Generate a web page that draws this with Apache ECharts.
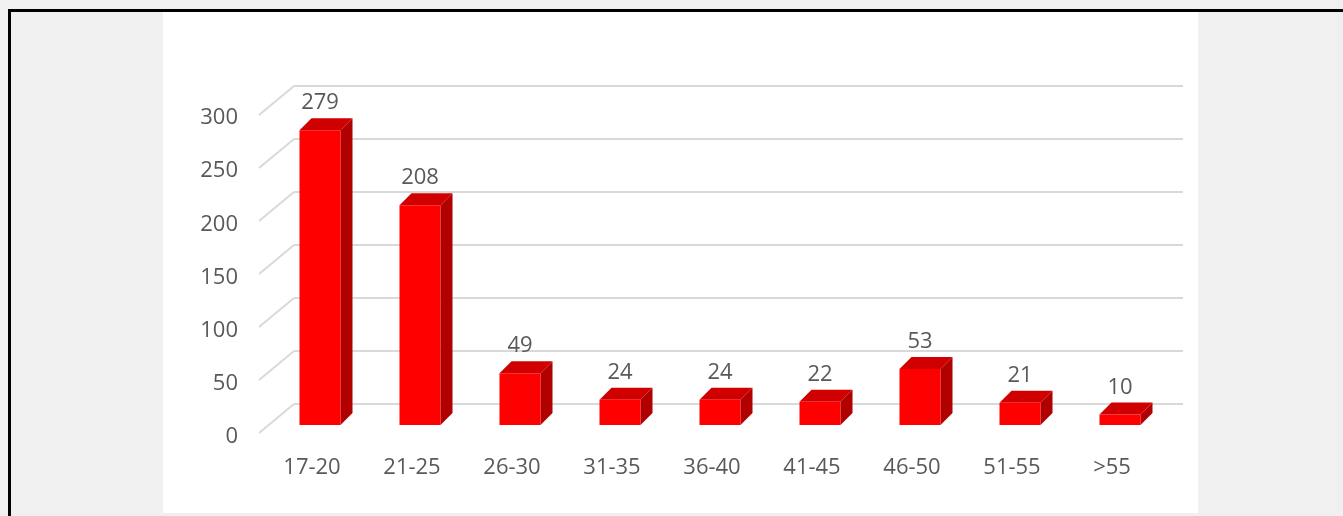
<!DOCTYPE html>
<html><head><meta charset="utf-8">
<script src="https://cdn.jsdelivr.net/npm/echarts@6/dist/echarts.min.js"></script>
<style>
html,body{margin:0;padding:0;background:#f0f0f0;width:1343px;height:516px;overflow:hidden;}
#panel{position:absolute;left:163px;top:11px;width:1035px;height:502px;background:#fff;}
#bt{position:absolute;left:8px;top:9px;width:1335px;height:3px;background:#000;}
#bl{position:absolute;left:8px;top:9px;width:3px;height:507px;background:#000;}
#chart{position:absolute;left:0;top:0;width:1343px;height:516px;}
</style></head><body>
<div id="panel"></div><div id="bt"></div><div id="bl"></div><div id="chart"></div>
<script>
const categories = ['17-20','21-25','26-30','31-35','36-40','41-45','46-50','51-55','>55'];
const counts = [279, 208, 49, 24, 24, 22, 53, 21, 10];
const yTicks = [0, 50, 100, 150, 200, 250, 300];

const FONT = "'Open Sans', 'Liberation Sans', sans-serif";
const TEXT = '#595959';
const GRID_LINE = '#d9d9d9';
const DEPTH = 12;
const FLOOR = [35, 29];

const chart = echarts.init(document.getElementById('chart'), null, {renderer: 'canvas'});

const option = {
  animation: false,
  backgroundColor: 'transparent',
  grid: [
    {left: 270, width: 900, top: 108, height: 317},
    {left: 294, width: 889, top: 86, height: 318},
    {left: 262, width: 900, top: 118, height: 319}
  ],
  xAxis: [
    {gridIndex: 0, type: 'category', data: categories, show: false},
    {gridIndex: 1, type: 'category', data: categories, show: false},
    {gridIndex: 2, type: 'category', data: categories,
      axisLine: {show: false}, axisTick: {show: false},
      axisLabel: {margin: 20, color: TEXT, fontSize: 22, fontFamily: FONT}}
  ],
  yAxis: [
    {gridIndex: 0, type: 'value', min: 0, max: 300, interval: 50, show: false},
    {gridIndex: 1, type: 'value', min: 0, max: 300, interval: 50,
      axisLine: {show: false}, axisTick: {show: false}, axisLabel: {show: false},
      splitLine: {show: true, lineStyle: {color: GRID_LINE, width: 2}}},
    {gridIndex: 2, type: 'value', min: 0, max: 300, interval: 50,
      axisLine: {show: false}, axisTick: {show: false}, splitLine: {show: false},
      axisLabel: {margin: 24, color: TEXT, fontSize: 22, fontFamily: FONT}}
  ],
  series: [
    {
      type: 'custom', xAxisIndex: 1, yAxisIndex: 1, silent: true, z: 1,
      data: yTicks.map(v => [0, v]),
      renderItem: function (params, api) {
        const p = api.coord([0, api.value(1)]);
        const band = api.size([1, 0])[0];
        const wx = p[0] - band / 2;
        return {
          type: 'line',
          shape: {x1: wx, y1: p[1], x2: wx - FLOOR[0], y2: p[1] + FLOOR[1]},
          style: {stroke: GRID_LINE, lineWidth: 2}
        };
      }
    },
    {
      type: 'custom', xAxisIndex: 0, yAxisIndex: 0, silent: true, z: 5,
      data: counts.map((v, i) => [i, v]),
      renderItem: function (params, api) {
        const i = api.value(0), v = api.value(1);
        const base = api.coord([i, 0]);
        const top = api.coord([i, v]);
        const w = api.size([1, 0])[0] * 0.41;
        const x0 = base[0] - w / 2, x1 = base[0] + w / 2;
        const yb = base[1], yt = top[1], d = DEPTH;
        return {
          type: 'group',
          children: [
            {type: 'polygon', shape: {points: [[x1, yt], [x1 + d, yt - d], [x1 + d, yb - d], [x1, yb]]},
              style: {fill: '#b00000'}},
            {type: 'polygon', shape: {points: [[x0, yt], [x0 + d, yt - d], [x1 + d, yt - d], [x1, yt]]},
              style: {fill: '#d00000'}},
            {type: 'rect', shape: {x: x0, y: yt, width: w, height: yb - yt},
              style: {fill: '#ff0000'}},
            {type: 'text', style: {x: base[0], y: yt - 27, text: String(v), align: 'center',
              verticalAlign: 'middle', fill: TEXT, fontSize: 22, fontFamily: FONT}}
          ]
        };
      }
    }
  ]
};
chart.setOption(option);
</script>
</body></html>
